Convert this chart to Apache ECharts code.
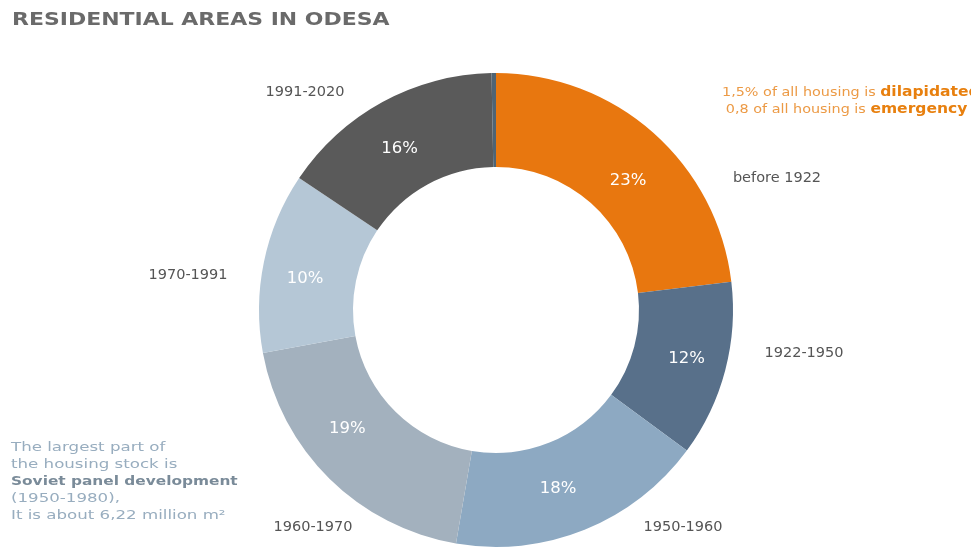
<!DOCTYPE html>
<html><head><meta charset="utf-8">
<script src="https://cdn.jsdelivr.net/npm/echarts@6/dist/echarts.min.js"></script>
<style>html,body{margin:0;padding:0;background:#fff;}#c{width:971px;height:548px;}</style>
</head><body><div id="c"></div>
<script>
// Data
const categories = ['before 1922', '1922-1950', '1950-1960', '1960-1970', '1970-1991', '1991-2020', ''];
const shares = [23.1, 12.0, 17.6, 19.4, 12.3, 15.3, 0.3];           // slice sizes as drawn
const shareLabels = ['23%', '12%', '18%', '19%', '10%', '16%', ''];   // printed percentages
const colors = ['#E8770F', '#58708A', '#8DA9C2', '#A3B1BE', '#B5C7D6', '#5A5A5A', '#4F6474'];
const titleText = 'RESIDENTIAL AREAS IN ODESA';
const noteTop = ['1,5% of all housing is ', 'dilapidated', '0,8 of all housing is ', 'emergency'];
const noteBottom = ['The largest part of', 'the housing stock is', 'Soviet panel development', '(1950-1980),', 'It is about 6,22 million m²'];

// layout of outside category labels (centre x, centre y)
const outPos = [[777, 178], [804, 353], [683, 527], [313, 527], [188, 275], [305, 92], [0, -100]];
// nudges of the inside percentage labels
const inOffset = [[4, 15], [4, 0], [-10, 0], [-13, -19], [-2, 8], [-4, 8], [0, 0]];

const data = categories.map((c, i) => ({ name: c, value: shares[i], itemStyle: { color: colors[i] } }));

const chart = echarts.init(document.getElementById('c'));
chart.setOption({
  animation: false,
  backgroundColor: '#fff',
  graphic: [
    {
      type: 'text', x: 12, y: 11, scaleX: 1.22,
      style: { text: titleText, font: 'bold 18px "DejaVu Sans"', fill: '#6a6a6a' }
    },
    {
      type: 'text', x: 722, y: 84, scaleX: 1.15,
      style: {
        text: '{n|' + noteTop[0] + '}{b|' + noteTop[1] + '}\n {n|' + noteTop[2] + '}{b|' + noteTop[3] + '}',
        rich: {
          n: { fontFamily: 'DejaVu Sans', fontSize: 12.5, fill: '#EC9A45', lineHeight: 17 },
          b: { fontFamily: 'DejaVu Sans', fontSize: 13.5, fontWeight: 'bold', fill: '#E8800F', lineHeight: 17 }
        }
      }
    },
    {
      type: 'text', x: 11, y: 439, scaleX: 1.28,
      style: {
        text: '{n|' + noteBottom[0] + '}\n{n|' + noteBottom[1] + '}\n{b|' + noteBottom[2] + '}\n{n|' + noteBottom[3] + '}\n{n|' + noteBottom[4] + '}',
        rich: {
          n: { fontFamily: 'DejaVu Sans', fontSize: 13, fill: '#98ADBF', lineHeight: 17 },
          b: { fontFamily: 'DejaVu Sans', fontSize: 12, fontWeight: 'bold', fill: '#7A8B99', lineHeight: 17 }
        }
      }
    }
  ],
  series: [
    {
      type: 'pie', center: [496, 310], radius: [143, 237],
      startAngle: 90, clockwise: true, silent: true,
      data: data,
      label: {
        show: true, position: 'inside',
        formatter: p => shareLabels[p.dataIndex],
        color: '#fff', fontFamily: 'DejaVu Sans', fontSize: 16.5
      },
      labelLine: { show: false },
      labelLayout: p => ({ dx: inOffset[p.dataIndex][0], dy: inOffset[p.dataIndex][1] })
    },
    {
      type: 'pie', center: [496, 310], radius: [143, 237],
      startAngle: 90, clockwise: true, silent: true, z: 1,
      data: data.map(d => ({ name: d.name, value: d.value, itemStyle: { color: 'rgba(0,0,0,0)' } })),
      label: {
        show: true, position: 'outside',
        formatter: p => p.name,
        color: '#555', fontFamily: 'DejaVu Sans', fontSize: 14.5
      },
      labelLine: { show: false },
      labelLayout: p => ({ x: outPos[p.dataIndex][0], y: outPos[p.dataIndex][1], align: 'center', verticalAlign: 'middle' })
    }
  ]
});
</script></body></html>
